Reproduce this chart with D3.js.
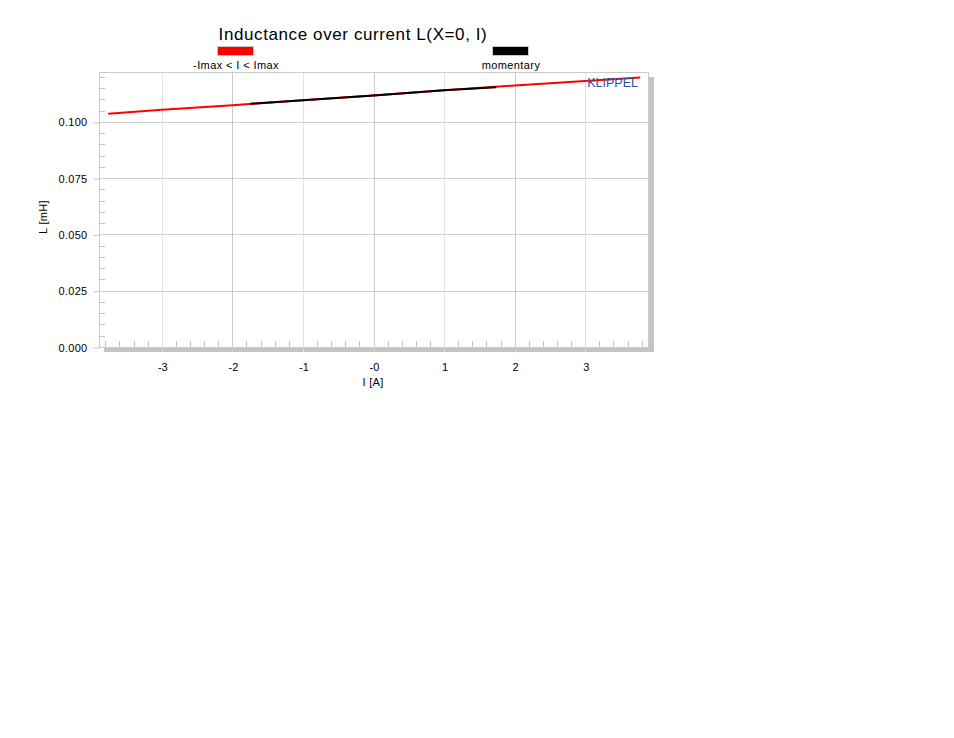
<!DOCTYPE html>
<html>
<head>
<meta charset="utf-8">
<script src="https://cdn.jsdelivr.net/npm/d3@7"></script>
<style>
  body { margin: 0; background: #fff; }
  text { font-family: "Liberation Sans", Arial, sans-serif; fill: #000; }
</style>
</head>
<body>
<div id="chart"></div>
<script>
// --- data ---
const currentA = [-3.76, -3, -2, -1, 0, 1, 2, 3, 3.78];
const inductanceL = [0.1036, 0.1054, 0.1074, 0.1097, 0.1118, 0.1141, 0.1162, 0.1182, 0.1198];
const momentaryA = [-1.74, -1, 0, 1, 1.74];
const momentaryL = [0.1081, 0.1097, 0.1118, 0.1141, 0.1154];
const xTicks = [-3, -2, -1, 0, 1, 2, 3];
const xTickLabels = ["-3", "-2", "-1", "-0", "1", "2", "3"];
const yTicks = [0, 0.025, 0.05, 0.075, 0.1];
const seriesNames = ["-Imax < I < Imax", "momentary"];
const seriesColors = ["#ff0000", "#000000"];

// --- layout ---
const width = 954, height = 738;
const plot = { left: 99, top: 72, right: 648, bottom: 347 };

const svg = d3.select("#chart").append("svg")
    .attr("width", width)
    .attr("height", height);

const x = d3.scaleLinear().domain([-3.89, 3.89]).range([plot.left, plot.right]);
const y = d3.scaleLinear().domain([0, 0.1222]).range([plot.bottom, plot.top]);

// shadow + frame
svg.append("rect")
    .attr("x", plot.left + 5).attr("y", plot.top + 5)
    .attr("width", plot.right - plot.left + 1).attr("height", plot.bottom - plot.top)
    .attr("fill", "#c4c4c4");
svg.append("rect")
    .attr("x", plot.left).attr("y", plot.top)
    .attr("width", plot.right - plot.left).attr("height", plot.bottom - plot.top)
    .attr("fill", "#fff");

// gridlines
svg.append("g").selectAll("line.hgrid")
    .data(yTicks.filter(d => d > 0))
    .join("line")
    .attr("x1", plot.left).attr("x2", plot.right)
    .attr("y1", d => Math.round(y(d)) + 0.5).attr("y2", d => Math.round(y(d)) + 0.5)
    .attr("stroke", "#cfcfcf");

svg.append("g").selectAll("line.vgrid")
    .data(xTicks)
    .join("line")
    .attr("x1", d => Math.round(x(d)) + 0.5).attr("x2", d => Math.round(x(d)) + 0.5)
    .attr("y1", plot.top).attr("y2", plot.bottom + 5)
    .attr("stroke", (d, i) => d % 2 === 0 ? "#cbcbcb" : "#e2e2e2");

// frame border
svg.append("rect")
    .attr("x", plot.left + 0.5).attr("y", plot.top + 0.5)
    .attr("width", plot.right - plot.left).attr("height", plot.bottom - plot.top)
    .attr("fill", "none")
    .attr("stroke", "#cacaca");

// minor ticks
const yMinor = d3.range(1, 25).map(i => i * 0.005).filter(v => Math.round(v * 1000) % 25 !== 0);
svg.append("g").selectAll("line")
    .data(yMinor)
    .join("line")
    .attr("x1", plot.left).attr("x2", plot.left + 6)
    .attr("y1", d => Math.round(y(d)) + 0.5).attr("y2", d => Math.round(y(d)) + 0.5)
    .attr("stroke", "#c4c4c4");

const xMinor = d3.range(-19, 20).map(i => i * 0.2).filter(v => Math.abs(v - Math.round(v)) > 1e-6);
svg.append("g").selectAll("line")
    .data(xMinor)
    .join("line")
    .attr("x1", d => Math.round(x(d)) + 0.5).attr("x2", d => Math.round(x(d)) + 0.5)
    .attr("y1", plot.bottom - 6).attr("y2", plot.bottom)
    .attr("stroke", "#c4c4c4");

// y axis
const yAxis = d3.axisLeft(y)
    .tickValues(yTicks)
    .tickFormat(d3.format(".3f"))
    .tickSize(6)
    .tickPadding(6);
const gy = svg.append("g")
    .attr("transform", `translate(${plot.left + 0.5},0.5)`)
    .call(yAxis);
gy.select(".domain").remove();
gy.selectAll(".tick line").attr("stroke", "#c4c4c4");
gy.selectAll(".tick text")
    .attr("font-size", 11)
    .attr("letter-spacing", 0.3)
    .attr("font-family", "Liberation Sans, Arial, sans-serif")
    .attr("fill", "#111");

// x axis
const xAxis = d3.axisBottom(x)
    .tickValues(xTicks)
    .tickFormat((d, i) => xTickLabels[i])
    .tickSize(0)
    .tickPadding(16);
const gx = svg.append("g")
    .attr("transform", `translate(0.5,${plot.bottom})`)
    .call(xAxis);
gx.select(".domain").remove();
gx.selectAll(".tick text")
    .attr("font-size", 11)
    .attr("font-family", "Liberation Sans, Arial, sans-serif")
    .attr("fill", "#111");

// lines
const line = d3.line().x(d => x(d[0])).y(d => y(d[1]));
svg.append("path")
    .datum(d3.zip(currentA, inductanceL))
    .attr("d", line)
    .attr("fill", "none")
    .attr("stroke", seriesColors[0])
    .attr("stroke-width", 2);
svg.append("path")
    .datum(d3.zip(momentaryA, momentaryL))
    .attr("d", line)
    .attr("fill", "none")
    .attr("stroke", seriesColors[1])
    .attr("stroke-width", 2);

// KLIPPEL mark
svg.append("text")
    .attr("x", 638).attr("y", 87)
    .attr("text-anchor", "end")
    .attr("font-size", 12.5)
    .style("fill", "#2d4f9e")
    .text("KLIPPEL");

// title
svg.append("text")
    .attr("x", 353).attr("y", 40)
    .attr("text-anchor", "middle")
    .attr("font-size", 17)
    .attr("letter-spacing", 0.6)
    .text("Inductance over current L(X=0, I)");

// legend
const legendX = [236, 511];
const legend = svg.append("g").selectAll("g")
    .data(seriesNames)
    .join("g")
    .attr("transform", (d, i) => `translate(${legendX[i]},0)`);
legend.append("rect")
    .attr("x", -18.5).attr("y", 46.5)
    .attr("width", 36).attr("height", 9)
    .attr("fill", (d, i) => seriesColors[i])
    .attr("stroke", "#c8c8c8");
legend.append("text")
    .attr("y", 69)
    .attr("text-anchor", "middle")
    .attr("font-size", 11)
    .attr("letter-spacing", 0.4)
    .text(d => d);

// axis titles
svg.append("text")
    .attr("x", 373).attr("y", 386)
    .attr("text-anchor", "middle")
    .attr("font-size", 11)
    .attr("letter-spacing", 0.3)
    .text("I [A]");
svg.append("text")
    .attr("transform", "translate(47,217) rotate(-90)")
    .attr("text-anchor", "middle")
    .attr("font-size", 11)
    .attr("letter-spacing", 0.3)
    .text("L [mH]");
</script>
</body>
</html>
